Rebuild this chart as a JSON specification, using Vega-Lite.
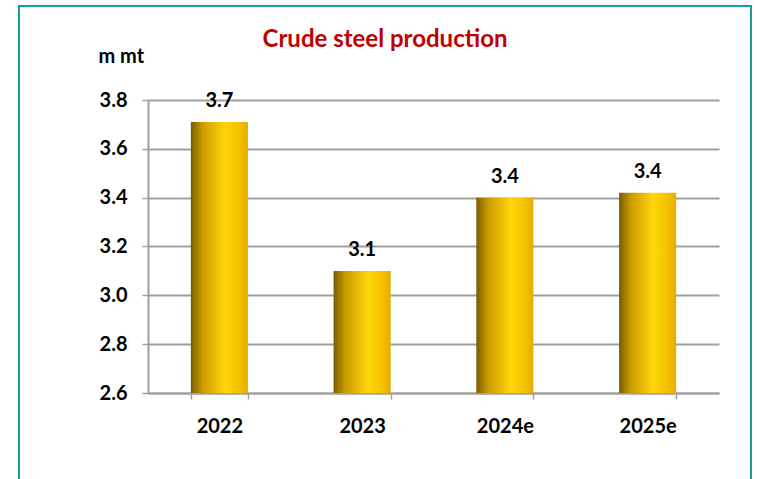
{
  "$schema": "https://vega.github.io/schema/vega-lite/v6.json",
  "autosize": {"type": "none"},
  "padding": {"left": 19, "top": 6, "right": 6, "bottom": -4},
  "width": 732,
  "height": 477,
  "background": "white",
  "config": {
    "view": {"stroke": "#14a19c", "strokeWidth": 2, "fill": "white"},
    "font": "Lato"
  },
  "title": {
    "text": "Crude steel production",
    "color": "#c00000",
    "fontSize": 24,
    "fontWeight": "bold",
    "font": "Lato",
    "anchor": "middle",
    "baseline": "alphabetic",
    "offset": -65
  },
  "data": {
    "values": [
      {"year": "2022", "value": 3.71},
      {"year": "2023", "value": 3.10},
      {"year": "2024e", "value": 3.40},
      {"year": "2025e", "value": 3.42}
    ]
  },
  "encoding": {
    "x": {
      "field": "year",
      "type": "nominal",
      "sort": null,
      "scale": {"range": [129, 700], "paddingInner": 0.6, "paddingOuter": 0.3},
      "axis": {
        "title": null,
        "offset": -90,
        "labelAngle": 0,
        "labelFontSize": 20,
        "labelFontWeight": "bold",
        "labelColor": "black",
        "labelPadding": 17,
        "tickBand": "extent",
        "tickColor": "#a0a0a0",
        "tickWidth": 1.5,
        "tickSize": 6,
        "domainColor": "#a0a0a0",
        "domainWidth": 2,
        "grid": false
      }
    },
    "y": {
      "field": "value",
      "type": "quantitative",
      "scale": {"domain": [2.6, 3.8], "range": [387, 94], "nice": false, "zero": false},
      "axis": {
        "title": "m mt",
        "titleAngle": 0,
        "titleAlign": "left",
        "titleBaseline": "alphabetic",
        "titleX": -50,
        "titleY": 56,
        "titleFontSize": 20,
        "titleFontWeight": "bold",
        "titleColor": "black",
        "offset": -129,
        "values": [2.6, 2.8, 3.0, 3.2, 3.4, 3.6, 3.8],
        "format": ".1f",
        "labelFontSize": 20,
        "labelFontWeight": "bold",
        "labelColor": "black",
        "labelPadding": 15,
        "tickColor": "#a0a0a0",
        "tickWidth": 1.5,
        "tickSize": 6,
        "domainColor": "#a0a0a0",
        "domainWidth": 2,
        "grid": true,
        "gridColor": "#a0a0a0",
        "gridWidth": 2
      }
    }
  },
  "layer": [
    {
      "mark": {
        "type": "bar",
        "clip": true,
        "color": {
          "gradient": "linear",
          "x1": 0, "y1": 0, "x2": 1, "y2": 0,
          "stops": [
            {"offset": 0, "color": "#7a5c00"},
            {"offset": 0.2, "color": "#c99a00"},
            {"offset": 0.6, "color": "#ffd60a"},
            {"offset": 0.85, "color": "#f5c200"},
            {"offset": 1, "color": "#e6ab00"}
          ]
        }
      },
      "encoding": {
        "y": {"field": "value", "type": "quantitative"},
        "y2": {"datum": 2.6}
      }
    },
    {
      "mark": {
        "type": "text",
        "dy": -15,
        "baseline": "alphabetic",
        "fontSize": 20,
        "fontWeight": "bold",
        "color": "black"
      },
      "encoding": {
        "text": {"field": "value", "type": "quantitative", "format": ".1f"}
      }
    }
  ]
}
